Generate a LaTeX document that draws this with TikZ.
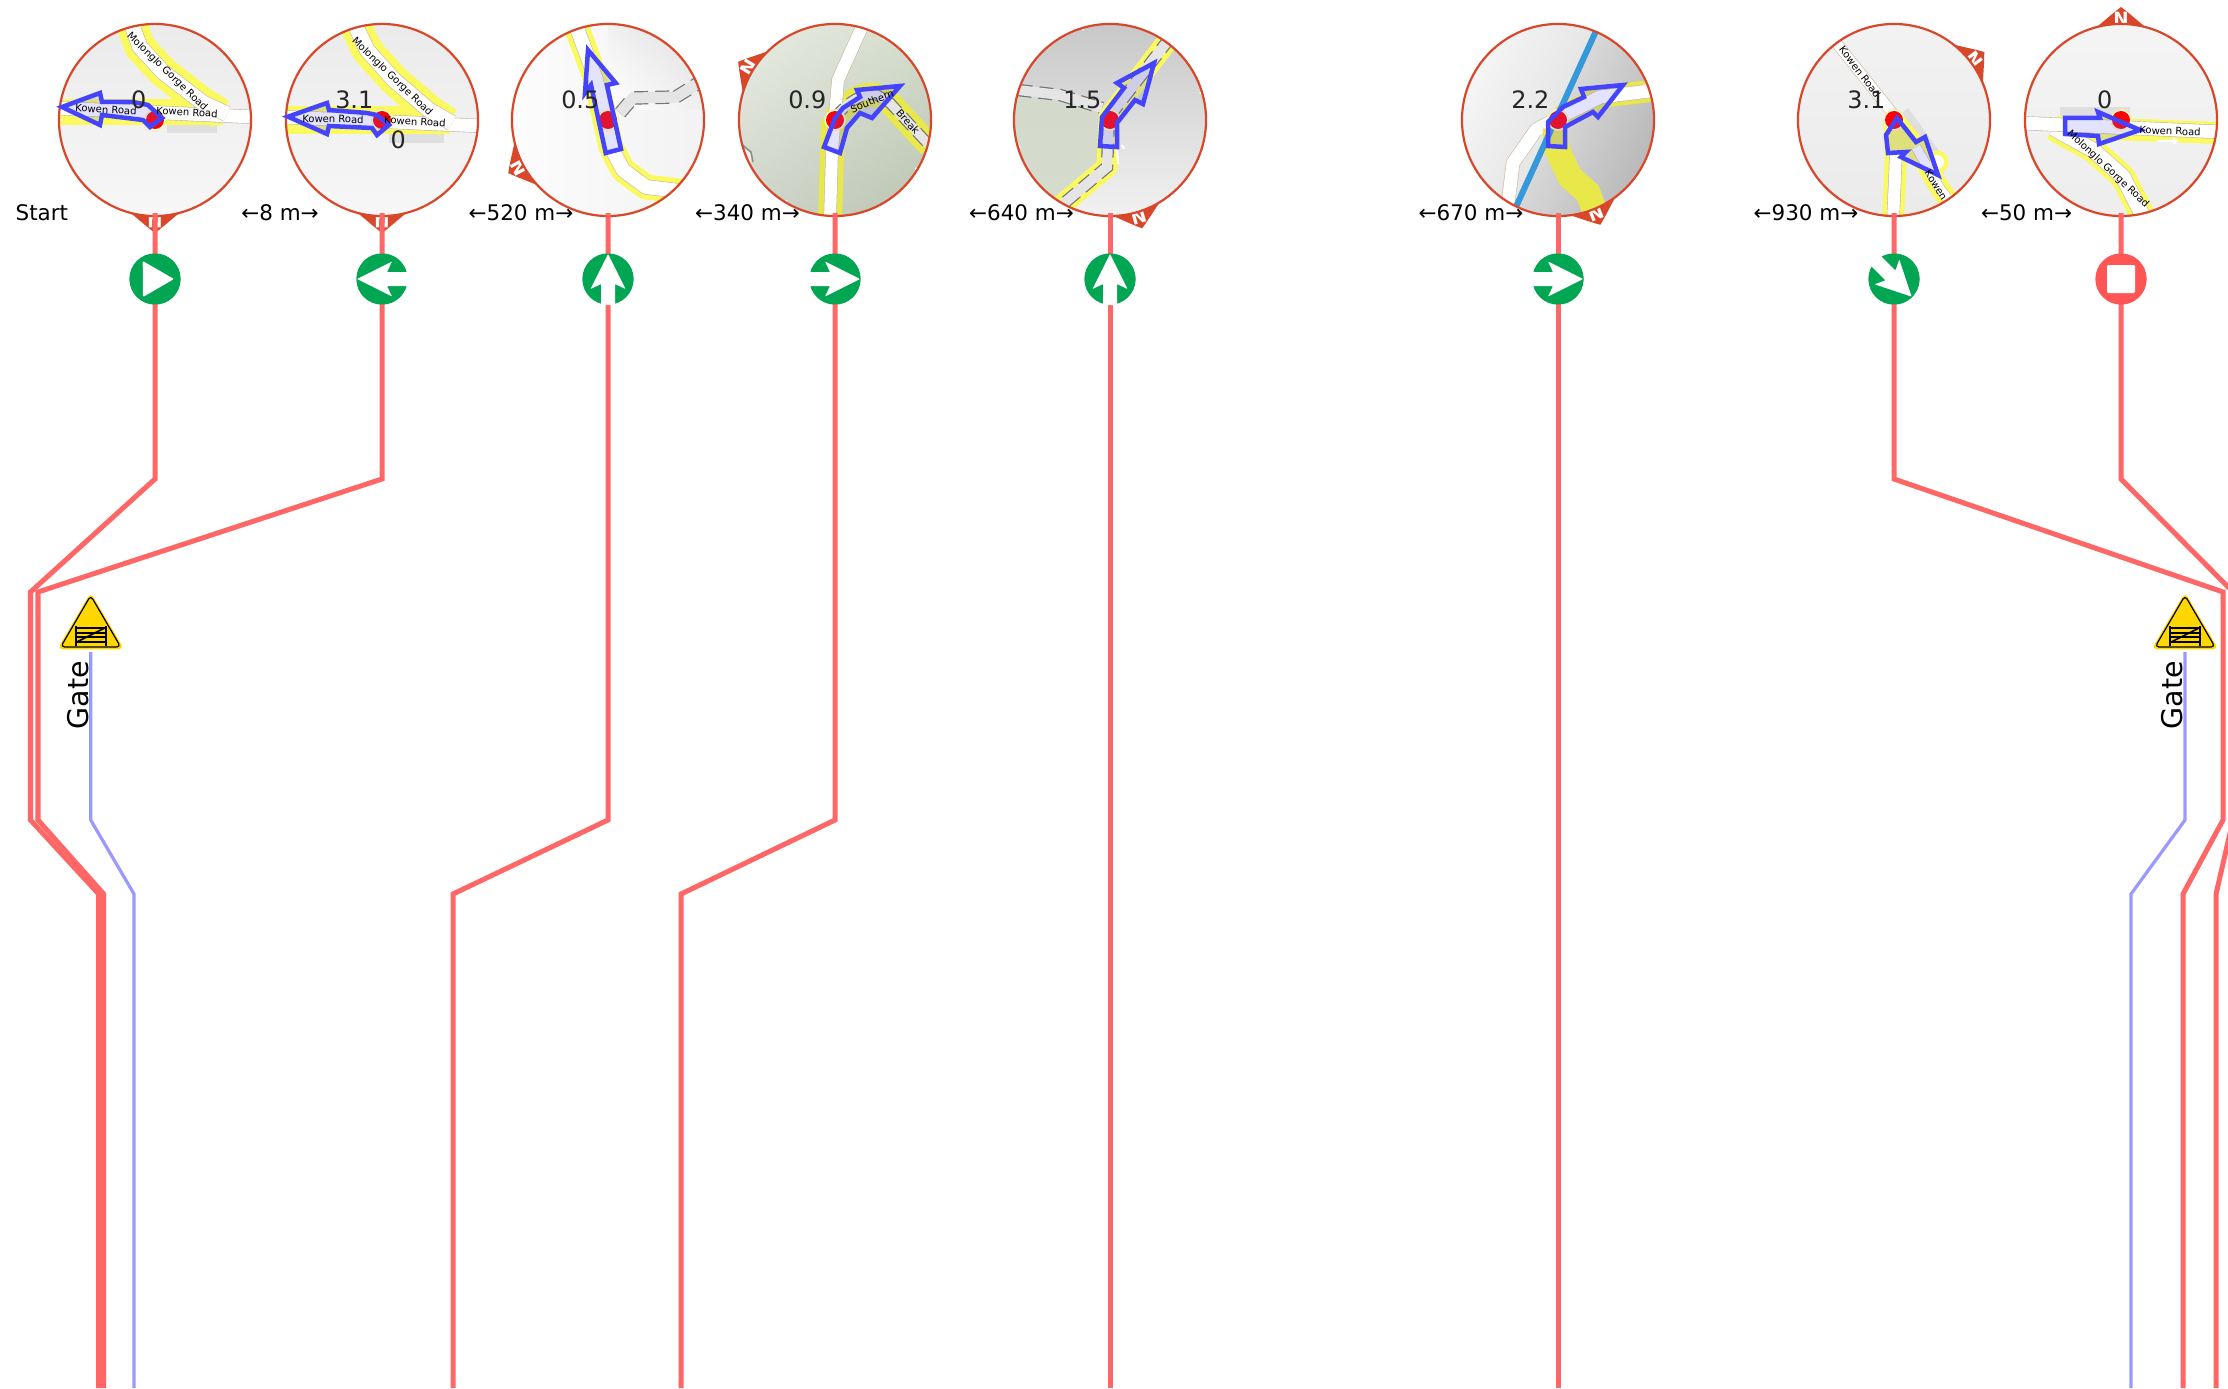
\documentclass[tikz,border=0pt]{standalone}
\usepackage{fontspec}
\setmainfont{DejaVu Sans}
\definecolor{routered}{HTML}{FF6666}
\definecolor{gateblue}{HTML}{9999FF}
\definecolor{compass}{HTML}{D9472B}
\definecolor{turngreen}{HTML}{00A651}
\definecolor{stopred}{HTML}{FF5555}
\definecolor{arrowblue}{HTML}{4444FF}
\definecolor{arrowfill}{HTML}{6666FF}
\definecolor{roadyel}{HTML}{FAFA5F}
\definecolor{roadyeld}{HTML}{E8E84A}
\definecolor{tan}{HTML}{C8B8A0}
\definecolor{gold}{HTML}{FFD700}
\definecolor{river}{HTML}{3498DB}
\definecolor{sagea}{HTML}{E0E5D8}
\definecolor{sageb}{HTML}{C0CDB5}
\definecolor{sagec}{HTML}{D3DACA}
\newcommand{\pxw}{0.2845pt}
\tikzset{
  x=0.01cm,y=-0.01cm,
  route/.style={routered,line width=5*\pxw,line join=miter},
  gateline/.style={gateblue,line width=3.2*\pxw,line join=miter},
  ring/.style={circle,draw=compass,line width=2.2*\pxw,minimum size=192*\pxw,inner sep=0pt},
  turnicon/.style={circle,fill=turngreen,minimum size=51*\pxw,inner sep=0pt},
  stopicon/.style={circle,fill=stopred,minimum size=51*\pxw,inner sep=0pt},
  dist/.style={font=\fontsize{6.1}{7}\selectfont,text=black,inner sep=0pt},
  kmlabel/.style={font=\fontsize{6.8}{8}\selectfont,text=black!85,inner sep=0pt},
  roadname/.style={font=\fontsize{2.85}{3}\selectfont,text=black,inner sep=0pt},
  gatelabel/.style={font=\fontsize{8.1}{9}\selectfont,text=black,inner sep=0pt,rotate=90},
  blueshape/.style={draw=arrowblue,line width=4.5*\pxw,line join=miter,fill=arrowfill,fill opacity=0.18},
  dotmark/.style={fill=red},
  dothalo/.style={fill=white,draw=roadyel,line width=.6*\pxw},
  whitearrow/.style={fill=white},
  greypatch/.style={fill=black!14,opacity=.8},
}
\newcommand{\compasstab}[1]{%
  \begin{scope}[rotate=#1-90]
    \fill[compass] (-30,-89) .. controls (-22,-94) and (-12,-104) .. (0,-113)
      .. controls (12,-104) and (22,-94) .. (30,-89) -- cycle;
    \node[font=\fontsize{5.2}{6}\selectfont\bfseries,text=white,inner sep=0pt,rotate=#1-90] at (0,-101) {N};
  \end{scope}}
\newcommand{\discticks}[1]{%
  \foreach \t in {90,180,270}{%
    \begin{scope}[rotate=#1-90+\t]
      \draw[white,line width=2*\pxw] (0,-93.5) -- (0,-97.5);
    \end{scope}}}
\newcommand{\yroad}[2][24]{\draw[roadyel,line width=#1*\pxw,line join=round] #2;}
\newcommand{\yroadd}[2][24]{\draw[roadyeld,line width=#1*\pxw,line join=round] #2;}
\newcommand{\wroad}[2][13]{%
  \draw[tan,line width=#1*\pxw+1.2*\pxw,line join=round] #2;
  \draw[white,line width=#1*\pxw,line join=round] #2;}
\newcommand{\troad}[2][11]{%
  \draw[black!55,line width=#1*\pxw+2.4*\pxw,dash pattern=on 14*\pxw off 7*\pxw] #2;
  \draw[black!10,line width=#1*\pxw] #2;}
\newcommand{\routedot}{%
  \fill[dothalo] (0,0) circle [radius=10.5];
  \fill[dotmark] (0,0) circle [radius=9];}
\newcommand{\turnglyph}[2]{%
  \begin{scope}[shift={(#1)},rotate=#2]
    \fill[whitearrow,rounded corners=.2pt] (-25,0) -- (10,-17.5) -- (5,-7) -- (26,-7) -- (26,7) -- (5,7) -- (10,17.5) -- cycle;
  \end{scope}}
\newcommand{\gateicon}[1]{%
  \begin{scope}[shift={(#1)}]
    \draw[gold,fill=gold,line width=1.6*\pxw,rounded corners=4*\pxw,line join=round] (0,-3) -- (32,51.5) -- (-32,51.5) -- cycle;
    \draw[black,line width=1.2*\pxw,rounded corners=4*\pxw,line join=round] (0,-1.5) -- (30,50) -- (-30,50) -- cycle;
    \draw[black,line width=2.2*\pxw] (-15,29) -- (-15,49) (15,29) -- (15,49);
    \draw[black,line width=1.5*\pxw] (-15,31) -- (15,31) (-15,36) -- (15,36) (-15,40) -- (15,40) (-15,45) -- (15,45);
    \draw[black,line width=1.6*\pxw] (-14,45) -- (14,31);
  \end{scope}}
\begin{document}
\begin{tikzpicture}
\useasboundingbox (0,0) rectangle (2228,1388);
\clip (0,0) rectangle (2228,1388);
\fill[white] (0,0) rectangle (2228,1388);

% ---- disc 1
\begin{scope}[shift={(155,120)}]
  \compasstab{270}
  \begin{scope}
    \clip (0,0) circle [radius=96];
    \shade[top color=black!8,bottom color=black!3] (-100,-100) rectangle (100,100);
    \fill[greypatch] (12,4) rectangle (62,13);
    \yroad[26]{(-100,-8) -- (68,-8)}
    \yroad[31]{(-25,-100) -- (-15,-73) -- (8,-48) -- (48,-17) -- (66,-6)}
    \wroad[13]{(-100,-12) -- (100,-3)}
    \wroad[15]{(-25,-100) -- (-15,-73) -- (8,-48) -- (48,-17) -- (72,-6)}
  \end{scope}
  \discticks{270}
  \node[ring] (m1) at (0,0) {};
  \routedot
  \fill[blueshape,draw=none] (-93,-13) -- (-55,-27) -- (-53,-18) -- (-22,-18) -- (-7,-15) -- (7,-2) -- (-5,7) -- (-12,0) -- (-53,-5) -- (-55,5) -- cycle;
  \draw[blueshape,fill=none] (-93,-13) -- (-55,-27) -- (-53,-18) -- (-22,-18) -- (-7,-15) -- (7,-2) -- (-5,7) -- (-12,0) -- (-53,-5) -- (-55,5) -- cycle;
  \node[roadname,rotate=-44] at (12,-48) {Molonglo Gorge Road};
  \node[roadname,rotate=-3] at (-49,-10.5) {Kowen Road};
  \node[roadname,rotate=-3] at (32,-8) {Kowen Road};
  \node[kmlabel,anchor=east] (k1) at (-8,-20) {0};
\end{scope}

% ---- disc 2
\begin{scope}[shift={(382,120)}]
  \compasstab{270}
  \begin{scope}
    \clip (0,0) circle [radius=96];
    \shade[top color=black!8,bottom color=black!3] (-100,-100) rectangle (100,100);
    \fill[greypatch] (7,13) rectangle (62,23);
    \yroad[28]{(-100,0) -- (68,0)}
    \yroad[31]{(-29,-100) -- (-15,-70) -- (12,-40) -- (47,-10) -- (66,3)}
    \wroad[13]{(-100,-3) -- (100,6)}
    \wroad[15]{(-29,-100) -- (-15,-70) -- (12,-40) -- (47,-10) -- (70,3)}
  \end{scope}
  \discticks{270}
  \node[ring] (m2) at (0,0) {};
  \routedot
  \fill[blueshape,draw=none] (-94,-3.3) -- (-55,-17) -- (-53,-10) -- (-15,-7) -- (-5,-5) -- (7,5) -- (-5,15) -- (-10,8) -- (-53,6) -- (-55,14) -- cycle;
  \draw[blueshape,fill=none] (-94,-3.3) -- (-55,-17) -- (-53,-10) -- (-15,-7) -- (-5,-5) -- (7,5) -- (-5,15) -- (-10,8) -- (-53,6) -- (-55,14) -- cycle;
  \node[roadname,rotate=-44] at (10,-43) {Molonglo Gorge Road};
  \node[roadname,rotate=-1] at (-49,-1) {Kowen Road};
  \node[roadname,rotate=-3] at (33,1.5) {Kowen Road};
  \node[kmlabel,anchor=east] (k2) at (-8,-20) {3.1};
  \node[kmlabel,anchor=west] (k2b) at (8,20) {0};
\end{scope}

% ---- disc 3
\begin{scope}[shift={(608,120)}]
  \compasstab{208}
  \begin{scope}
    \clip (0,0) circle [radius=96];
    \shade[left color=black!1,right color=black!5,shading angle=90] (-100,-100) rectangle (100,100);
    \shade[top color=black!16,bottom color=white,shading angle=-40,opacity=.55] (0,-100) rectangle (100,-10);
    \troad[11]{(12,-7) -- (25,-22) -- (68,-23) -- (92,-38)}
    \yroad[25]{(-34,-100) -- (-12,-40) -- (3,27) -- (15,50) -- (38,67) -- (80,72)}
    \wroad[14]{(-34,-100) -- (-12,-40) -- (3,27) -- (15,50) -- (38,67) -- (80,72)}
  \end{scope}
  \discticks{208}
  \node[ring] (m3) at (0,0) {};
  \routedot
  \fill[blueshape,draw=none] (-20,-70) -- (7.7,-37) -- (-1,-35) -- (13,29) -- (-2.3,33) -- (-11,-7) -- (-19,-33) -- (-23,-27) -- cycle;
  \draw[blueshape,fill=none] (-20,-70) -- (7.7,-37) -- (-1,-35) -- (13,29) -- (-2.3,33) -- (-11,-7) -- (-17,-35) -- (-23,-27) -- cycle;
  \node[kmlabel,anchor=east] (k3) at (-8,-20) {0.5};
\end{scope}

% ---- disc 4
\begin{scope}[shift={(835,120)}]
  \compasstab{149}
  \begin{scope}
    \clip (0,0) circle [radius=96];
    \shade[left color=sagea,right color=sageb,shading angle=70] (-100,-100) rectangle (100,100);
    \shade[top color=white,bottom color=black!30,opacity=.25] (-100,-100) rectangle (100,100);
    \fill[white,opacity=.6] (-96,24) -- (-84,34) -- (-84,45) -- (-96,45) -- cycle;
    \draw[black!45,line width=1.5*\pxw] (-96,22) -- (-84,32) -- (-82,42);
    \yroadd[24]{(-2,0) -- (-3,30) -- (-5,100)}
    \yroadd[24]{(0,-2) .. controls (12,-18) and (28,-28) .. (42,-25) -- (55,-17) -- (95,26)}
    \wroad[12]{(30,-100) -- (3,-40) -- (-3,30) -- (-5,100)}
    \troad[9]{(0,-2) .. controls (12,-18) and (28,-28) .. (42,-25) -- (55,-17) -- (95,26)}
  \end{scope}
  \discticks{149}
  \node[ring] (m4) at (0,0) {};
  \routedot
  \fill[blueshape,draw=none] (65,-34) -- (22,-30) -- (25,-23) -- (8,-12) -- (0,-2) -- (-11,27) -- (5,33) -- (12,8) -- (25,-7) -- (37,-2) -- cycle;
  \draw[blueshape,fill=none] (65,-34) -- (22,-30) -- (25,-23) -- (8,-12) -- (0,-2) -- (-11,27) -- (5,33) -- (12,8) -- (25,-7) -- (37,-2) -- cycle;
  \node[roadname,rotate=22] at (37,-19) {Southern};
  \node[roadname,rotate=-48] at (73,2) {Break};
  \node[kmlabel,anchor=east] (k4) at (-8,-20) {0.9};
\end{scope}

% ---- disc 5
\begin{scope}[shift={(1110,120)}]
  \compasstab{-73.5}
  \begin{scope}
    \clip (0,0) circle [radius=96];
    \shade[top color=black!22,bottom color=black!5] (-100,-100) rectangle (100,100);
    \fill[sagec,opacity=.9] (-96,-25) -- (-5,-8) -- (-8,45) -- (-50,80) -- (-96,90) -- cycle;
    \troad[10]{(-92,-30) -- (-50,-25) -- (-8,-12)}
    \yroad[21]{(-60,95) -- (-3,47) -- (-1,-3) -- (70,-95)}
    \troad[10]{(-60,95) -- (-3,47) -- (-1,-3) -- (70,-95)}
    \draw[white,line width=2*\pxw] (7,30) -- (8,44) (12,25) -- (14,29);
  \end{scope}
  \discticks{-73.5}
  \node[ring] (m5) at (0,0) {};
  \routedot
  \fill[blueshape,draw=none] (44,-57) -- (7,-37) -- (14,-32) -- (-8,-3) -- (-10,26) -- (7,27) -- (7,3) -- (25,-20) -- (33,-16) -- cycle;
  \draw[blueshape,fill=none] (44,-57) -- (7,-37) -- (14,-32) -- (-8,-3) -- (-10,26) -- (7,27) -- (7,3) -- (25,-20) -- (33,-16) -- cycle;
  \node[kmlabel,anchor=east] (k5) at (-8,-20) {1.5};
\end{scope}

% ---- disc 6
\begin{scope}[shift={(1558,120)}]
  \compasstab{-68}
  \begin{scope}
    \clip (0,0) circle [radius=96];
    \shade[left color=black!3,right color=black!28,shading angle=65] (-100,-100) rectangle (100,100);
    \fill[yellow!5!black!5,opacity=.5] (-100,-100) -- (45,-100) -- (-45,100) -- (-100,100) -- cycle;
    \wroad[13]{(-52,100) -- (-45,43) -- (-22,10) -- (2,-3)}
    \yroadd[22]{(2,-3) -- (42,-23) -- (100,-30)}
    \wroad[13]{(2,-3) -- (42,-23) -- (100,-30)}
    \yroadd[25]{(-3,8) -- (-2,27) -- (12,57) -- (30,73) -- (40,100)}
    \draw[river,line width=6*\pxw] (43,-100) -- (-48,100);
  \end{scope}
  \discticks{-68}
  \node[ring] (m6) at (0,0) {};
  \routedot
  \fill[blueshape,draw=none] (65,-35) -- (23,-31) -- (26,-23) -- (5,-13) -- (-10,2) -- (-10,26) -- (7,27) -- (7,7) -- (35,-8) -- (40,-3) -- cycle;
  \draw[blueshape,fill=none] (65,-35) -- (23,-31) -- (26,-23) -- (5,-13) -- (-10,2) -- (-10,26) -- (7,27) -- (7,7) -- (35,-8) -- (40,-3) -- cycle;
  \node[kmlabel,anchor=east] (k6) at (-8,-20) {2.2};
\end{scope}

% ---- disc 7
\begin{scope}[shift={(1894,120)}]
  \compasstab{37}
  \begin{scope}
    \clip (0,0) circle [radius=96];
    \shade[top color=black!5,bottom color=black!8] (-100,-100) rectangle (100,100);
    \fill[greypatch] (14,-12) -- (54,43) -- (40,55) -- (0,0) -- cycle;
    \yroad[22]{(-1,100) -- (1,57) -- (2,20) -- (0,0)}
    \yroad[20]{(0,0) -- (22,27) -- (45,67) -- (58,85)}
    \yroad[5]{(43,42) circle [radius=9]}
    \wroad[10]{(-60,-80) -- (0,-5)}
    \wroad[12]{(-1,100) -- (1,57) -- (2,30)}
    \wroad[9]{(22,27) -- (45,67) -- (58,85)}
    \fill[white] (43,42) circle [radius=7];
  \end{scope}
  \discticks{37}
  \node[ring] (m7) at (0,0) {};
  \routedot
  \fill[blueshape,draw=none] (3,-2) -- (-8,15) -- (-6,33) -- (12,32) -- (7,37) -- (44,55) -- (31,17) -- (22,22) -- cycle;
  \draw[blueshape,fill=none] (3,-2) -- (-8,15) -- (-6,33) -- (12,32) -- (7,37) -- (44,55) -- (31,17) -- (22,22) -- cycle;
  \node[roadname,rotate=-53] at (-34,-48) {Kowen Road};
  \node[roadname,rotate=-58] at (42,65) {Kowen};
  \node[kmlabel,anchor=east] (k7) at (-8,-20) {3.1};
\end{scope}

% ---- disc 8
\begin{scope}[shift={(2121,120)}]
  \compasstab{90}
  \begin{scope}
    \clip (0,0) circle [radius=96];
    \shade[top color=black!4,bottom color=black!7] (-100,-100) rectangle (100,100);
    \fill[greypatch] (-61,-13) rectangle (9,-3);
    \yroad[22]{(-64,7) -- (100,13)}
    \yroad[25]{(-68,8) -- (-28,30) -- (2,57) -- (24,100)}
    \wroad[15]{(-68,8) -- (-28,30) -- (2,57) -- (24,100)}
    \wroad[13]{(-100,3) -- (100,12)}
    \draw[white,line width=2*\pxw] (36,21) -- (56,21) (52,18) -- (56,21) -- (52,24);
  \end{scope}
  \discticks{90}
  \node[ring] (m8) at (0,0) {};
  \routedot
  \fill[blueshape,draw=none] (19,10) -- (-23,-8) -- (-21,-2) -- (-56,-2) -- (-56,14) -- (-23,16) -- (-22,24) -- cycle;
  \draw[blueshape,fill=none] (19,10) -- (-23,-8) -- (-21,-2) -- (-56,-2) -- (-56,14) -- (-23,16) -- (-22,24) -- cycle;
  \node[roadname,rotate=-43] at (-13,49) {Molonglo Gorge Road};
  \node[roadname,rotate=-2] at (49,11) {Kowen Road};
  \node[kmlabel,anchor=east] (k8) at (-8,-20) {0};
\end{scope}

% ---- distance labels
\node[dist,anchor=west] (d0) at (15,213) {Start};
\node[dist] (d1) at (280,213) {←8 m→};
\node[dist] (d2) at (521,213) {←520 m→};
\node[dist] (d3) at (747.5,213) {←340 m→};
\node[dist] (d4) at (1021.5,213) {←640 m→};
\node[dist] (d5) at (1471,213) {←670 m→};
\node[dist] (d6) at (1806,213) {←930 m→};
\node[dist] (d7) at (2026.5,213) {←50 m→};

% ---- route anchor points
\coordinate (s1) at (155,213); \coordinate (s2) at (382,213); \coordinate (s3) at (608,213); \coordinate (s4) at (835,213);
\coordinate (s5) at (1110,213); \coordinate (s6) at (1558,213); \coordinate (s7) at (1894,213); \coordinate (s8) at (2121,213);
\coordinate (a1) at (155,479); \coordinate (a2) at (30.5,592); \coordinate (a3) at (30.5,820); \coordinate (a4) at (98.7,894); \coordinate (a5) at (98.7,1388);
\coordinate (b1) at (382,479); \coordinate (b2) at (38,592); \coordinate (b3) at (38,820); \coordinate (b4) at (103.7,894); \coordinate (b5) at (103.7,1388);
\coordinate (c1) at (608,820); \coordinate (c2) at (453,894); \coordinate (c3) at (453,1388);
\coordinate (e1) at (835,820); \coordinate (e2) at (681,894); \coordinate (e3) at (681,1388);
\coordinate (f1) at (1110,1388); \coordinate (g1) at (1558,1388);
\coordinate (h1) at (1894,479); \coordinate (h2) at (2223,592); \coordinate (h3) at (2223,820); \coordinate (h4) at (2183,894); \coordinate (h5) at (2183,1388);
\coordinate (j1) at (2121,479); \coordinate (j2) at (2233,592); \coordinate (j3) at (2233,820); \coordinate (j4) at (2216,894); \coordinate (j5) at (2216,1388);
\coordinate (p1) at (90.7,652); \coordinate (p2) at (90.7,820); \coordinate (p3) at (134,894); \coordinate (p4) at (134,1388);
\coordinate (q1) at (2185,652); \coordinate (q2) at (2185,820); \coordinate (q3) at (2131,894); \coordinate (q4) at (2131,1388);

% ---- icons' nodes
\path node[turnicon] (i1) at (155,279) {} node[turnicon] (i2) at (382,279) {} node[turnicon] (i3) at (608,279) {} node[turnicon] (i4) at (835,279) {}
  node[turnicon] (i5) at (1110,279) {} node[turnicon] (i6) at (1558,279) {} node[turnicon] (i7) at (1894,279) {} node[stopicon] (i8) at (2121,279) {};

% ---- connectors
\draw[route] (s1) -- (i1.center) -- (a1) -- (a2) -- (a3) -- (a4) -- (a5);
\draw[route] (s2) -- (i2.center) -- (b1) -- (b2) -- (b3) -- (b4) -- (b5);
\draw[route] (s3) -- (i3.center) -- (c1) -- (c2) -- (c3);
\draw[route] (s4) -- (i4.center) -- (e1) -- (e2) -- (e3);
\draw[route] (s5) -- (i5.center) -- (f1);
\draw[route] (s6) -- (i6.center) -- (g1);
\draw[route] (s7) -- (i7.center) -- (h1) -- (h2) -- (h3) -- (h4) -- (h5);
\draw[route] (s8) -- (i8.center) -- (j1) -- (j2) -- (j3) -- (j4) -- (j5);
\draw[gateline] (p1) -- (p2) -- (p3) -- (p4);
\draw[gateline] (q1) -- (q2) -- (q3) -- (q4);

% ---- icons on top
\fill[turngreen] (i1.center) circle [radius=25.5];
\fill[turngreen] (i2.center) circle [radius=25.5];
\fill[turngreen] (i3.center) circle [radius=25.5];
\fill[turngreen] (i4.center) circle [radius=25.5];
\fill[turngreen] (i5.center) circle [radius=25.5];
\fill[turngreen] (i6.center) circle [radius=25.5];
\fill[turngreen] (i7.center) circle [radius=25.5];
\fill[stopred] (i8.center) circle [radius=25.5];
\fill[whitearrow,rounded corners=.3pt] (142.7,261) -- (174,279) -- (143,297) -- cycle;
\turnglyph{382,279}{0}
\turnglyph{608,279}{-90}
\turnglyph{835,279}{180}
\turnglyph{1110,279}{-90}
\turnglyph{1558,279}{180}
\turnglyph{1894,279}{135}
\fill[whitearrow,rounded corners=.3pt] (2107,265) rectangle (2135,293);

% ---- gates
\gateicon{90.7,597}
\gateicon{2185,597}
\node[gatelabel,anchor=south] (t1) at (90,695) {Gate};
\node[gatelabel,anchor=south] (t2) at (2184,695) {Gate};
\end{tikzpicture}
\end{document}
